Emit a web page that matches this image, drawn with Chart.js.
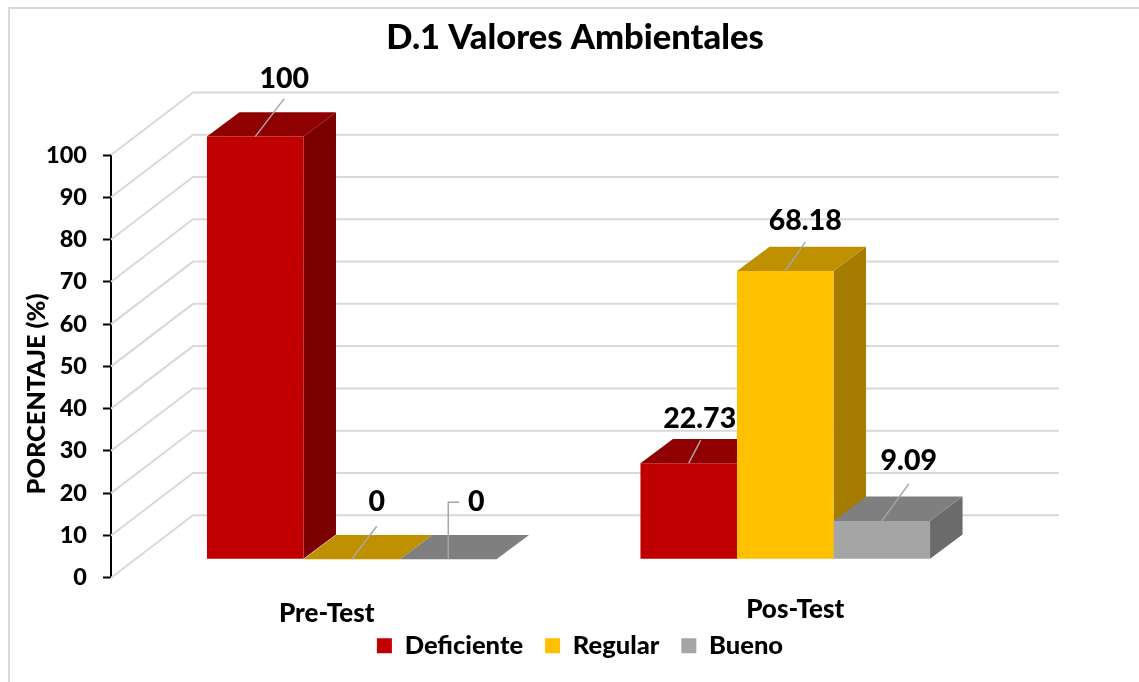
<!DOCTYPE html>
<html><head><meta charset="utf-8">
<script src="https://cdn.jsdelivr.net/npm/chart.js@4"></script>
<style>html,body{margin:0;padding:0;background:#fff}canvas{display:block}</style>
</head><body><canvas id="c" width="1139" height="682" style="width:1139px;height:682px"></canvas>
<script>
const categories = ["Pre-Test", "Pos-Test"];
const deficiente = [100, 22.73];
const regular = [0, 68.18];
const bueno = [0, 9.09];
const yTicks = [0,10,20,30,40,50,60,70,80,90,100];
const yAxisTitle = 'PORCENTAJE (%)';

const FONT = 'Lato';
const WEIGHT = 900;
const legendTop = 611;
const faces = [
  {top:'#8F0000', side:'#7C0000'},
  {top:'#BF9000', side:'#A67C00'},
  {top:'#7F7F7F', side:'#6B6B6B'}
];
const barShift = {x:24, y:-18.4};
const depth = {x:32.5, y:-24.3};
const wall = {x:82, y:-62.5, right:1059};
// leader end and label centre relative to the bar's front top centre
const callouts = [
  [[29,-38,29,-58],[12,-23,11,-44]],
  [[25,-33,25,-57],[20,-29,20,-50]],
  [[0,-57,28,-57,'elbow'],[27,-37,27,-60]]
];
const xLabelAdjust = [{x:-1,y:614},{x:34,y:610}];

const depth3d = {
  id:'depth3d',
  beforeDraw(chart){
    const c=chart.ctx; c.save();
    c.fillStyle='#fff'; c.fillRect(0,0,chart.width,chart.height);
    c.strokeStyle='#D9D9D9'; c.lineWidth=2;
    c.strokeRect(9,8,chart.width+20,chart.height+20);
    c.restore();
  },
  beforeDatasetsDraw(chart){
    const c=chart.ctx, y=chart.scales.y, L=chart.chartArea.left;
    c.save(); c.strokeStyle='#D9D9D9'; c.lineWidth=2;
    y.ticks.forEach(t=>{
      const p=y.getPixelForValue(t.value);
      c.beginPath(); c.moveTo(L,p); c.lineTo(L+wall.x,p+wall.y); c.lineTo(wall.right,p+wall.y); c.stroke();
    });
    // side and top faces go first, in series order; the library's front faces land on them
    chart.data.datasets.forEach((ds,i)=>{
      const f=faces[i];
      chart.getDatasetMeta(i).data.forEach(b=>{
        const l=b.x-b.width/2+barShift.x, r=b.x+b.width/2+barShift.x;
        const t=b.y+barShift.y, bt=b.base+barShift.y;
        if(bt-t>0.5){
          c.fillStyle=f.side; c.beginPath();
          c.moveTo(r,t); c.lineTo(r+depth.x,t+depth.y); c.lineTo(r+depth.x,bt+depth.y); c.lineTo(r,bt); c.closePath(); c.fill();
        }
        c.fillStyle=f.top; c.beginPath();
        c.moveTo(l,t); c.lineTo(l+depth.x,t+depth.y); c.lineTo(r+depth.x,t+depth.y); c.lineTo(r,t); c.closePath(); c.fill();
      });
    });
    c.restore();
  },
  beforeDatasetDraw(chart){ const c=chart.ctx; c.save(); c.translate(barShift.x,barShift.y); },
  afterDatasetDraw(chart){ chart.ctx.restore(); },
  afterDatasetsDraw(chart){
    const c=chart.ctx; c.save();
    c.textAlign='center'; c.textBaseline='middle';
    chart.data.datasets.forEach((ds,i)=>{
      chart.getDatasetMeta(i).data.forEach((b,j)=>{
        const o=callouts[i][j], x=b.x+barShift.x, y=b.y+barShift.y;
        c.strokeStyle='#A6A6A6'; c.lineWidth=1.5; c.beginPath(); c.moveTo(x,y); c.lineTo(x+o[0],y+o[1]);
        if(o[4]) c.lineTo(x+11,y+o[1]);
        c.stroke();
        c.fillStyle='#000'; c.font=WEIGHT+' 28.5px '+FONT;
        c.fillText(String(ds.data[j]),x+o[2],y+o[3]);
      });
    });
    const xs=chart.scales.x;
    c.font=WEIGHT+' 26px '+FONT;
    categories.forEach((t,i)=>{ c.fillText(t,xs.getPixelForTick(i)+xLabelAdjust[i].x,xLabelAdjust[i].y); });
    c.font=WEIGHT+' 25.3px '+FONT;
    c.translate(37,394); c.rotate(-Math.PI/2);
    c.fillText(yAxisTitle,0,0);
    c.restore();
  },
  afterLayout(chart){
    const lg=chart.legend, tb=chart.titleBlock;
    const dl=580-(lg.left+lg.right)/2, h=lg.bottom-lg.top;
    lg.left+=dl; lg.right+=dl; lg.top=legendTop; lg.bottom=legendTop+h;
    const dt=575-(tb.left+tb.right)/2;
    tb.left+=dt; tb.right+=dt;
  }
};

const chart=new Chart(document.getElementById('c'),{
  type:'bar',
  data:{labels:categories,datasets:[
    {label:'Deficiente',data:deficiente,backgroundColor:'#C00000',clip:false},
    {label:'Regular',data:regular,backgroundColor:'#FFC000',clip:false},
    {label:'Bueno',data:bueno,backgroundColor:'#A5A5A5',clip:false}
  ]},
  plugins:[depth3d],
  options:{
    responsive:false, animation:false,
    layout:{padding:{left:0,right:161,top:0,bottom:40}},
    datasets:{bar:{categoryPercentage:0.668,barPercentage:1}},
    plugins:{
      tooltip:{enabled:false},
      title:{display:true,text:'D.1 Valores Ambientales',color:'#000',
        font:{family:FONT,size:34.5,weight:WEIGHT},padding:{top:17,bottom:90}},
      legend:{position:'bottom',labels:{color:'#000',boxWidth:15,boxHeight:15,padding:22,
        font:{family:FONT,size:25.5,weight:WEIGHT}}}
    },
    scales:{
      x:{grid:{display:false},border:{display:false},ticks:{display:false}},
      y:{min:0,max:100,
        afterFit(s){s.width=111;},
        afterBuildTicks(s){s.ticks=yTicks.map(v=>({value:v}));},
        grid:{drawOnChartArea:false,tickLength:8,tickColor:'#000',tickWidth:2},
        border:{color:'#000',width:2},
        ticks:{color:'#000',padding:16,font:{family:FONT,size:23.5,weight:WEIGHT}}
      }
    }
  }
});
// second layout pass: settle the plot area on the reference's axis span
chart.options.plugins.title.padding.bottom += 155 - chart.chartArea.top;
chart.options.layout.padding.bottom += chart.chartArea.bottom - 577.7;
chart.update('none');
</script>
</body></html>
